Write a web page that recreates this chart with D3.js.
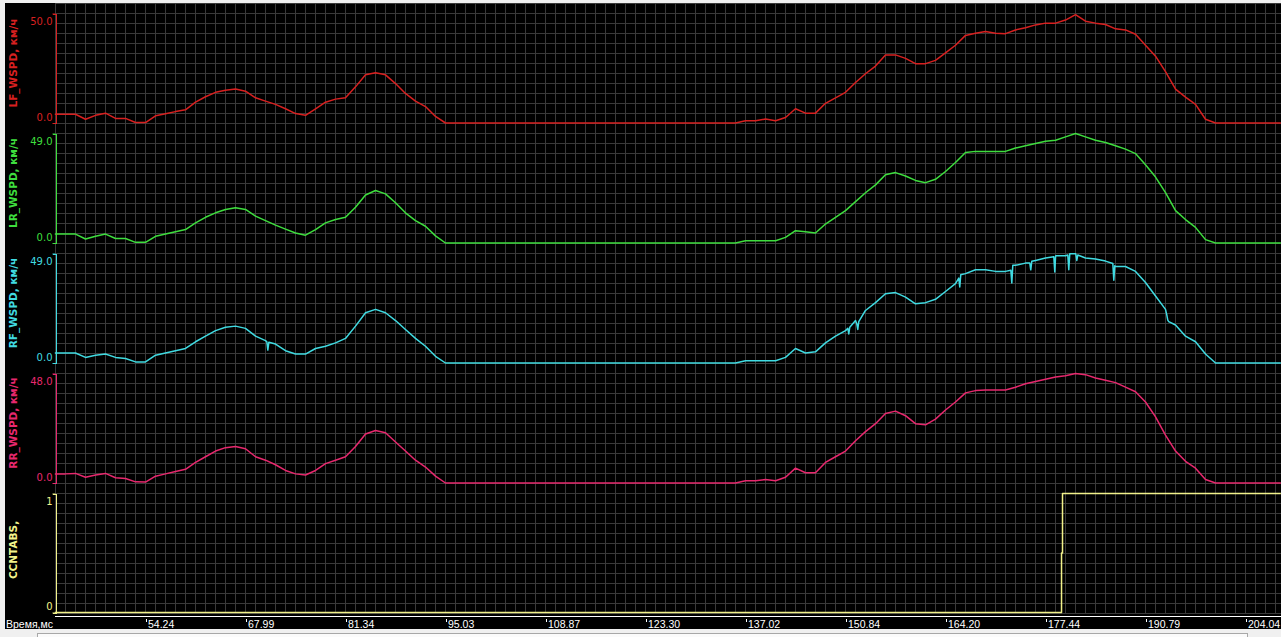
<!DOCTYPE html>
<html><head><meta charset="utf-8">
<script src="https://cdn.jsdelivr.net/npm/d3@7"></script>
<style>body{margin:0;background:#f0f0f0;overflow:hidden}svg{display:block}</style>
</head><body><svg id="c" width="1281" height="637"></svg>
<script>
// ---------- data ----------
const tickTimes = [54.24, 67.99, 81.34, 95.03, 108.87, 123.30, 137.02, 150.84, 164.20, 177.44, 190.79, 204.04];
const xTitle = "Время,мс";
const seriesNames = ["LF_WSPD, км/ч", "LR_WSPD, км/ч", "RF_WSPD, км/ч", "RR_WSPD, км/ч", "CCNTABS,"];
const axisMax = [50, 49, 49, 48, 1];
const axisFormat = [".1f", ".1f", ".1f", ".1f", "d"];

const timeMs = [41.77, 43.24, 44.62, 45.99, 47.37, 48.74, 50.12, 51.49, 52.87, 54.24,
 55.62, 56.99, 58.37, 59.74, 61.12, 62.49, 63.87, 65.24, 66.62, 67.99,
 69.33, 70.66, 72.00, 73.33, 74.67, 76.00, 77.34, 78.67, 80.01, 81.34,
 82.71, 84.08, 85.45, 86.82, 88.19, 89.55, 90.92, 92.29, 93.66, 95.03,
 96.41, 97.80, 99.18, 100.57, 101.95, 103.33, 104.72, 106.10, 107.49, 108.87,
 110.31, 111.76, 113.20, 114.64, 116.09, 117.53, 118.97, 120.41, 121.86, 123.30,
 124.67, 126.04, 127.42, 128.79, 130.16, 131.53, 132.90, 134.28, 135.65, 137.02,
 138.40, 139.78, 141.17, 142.55, 143.93, 145.31, 146.69, 148.07, 149.46, 150.84,
 152.18, 153.51, 154.85, 156.18, 157.52, 158.86, 160.19, 161.53, 162.86, 164.20,
 165.52, 166.85, 168.17, 169.50, 170.82, 172.14, 173.47, 174.79, 176.12, 177.44,
 178.78, 180.11, 181.45, 182.78, 184.12, 185.45, 186.79, 188.12, 189.46, 190.79,
 192.12, 193.44, 194.77, 196.09, 197.42, 198.74, 200.07, 201.39, 202.72, 204.04,
 205.37, 206.69, 208.02, 208.72];

const lfWspd = [4.0, 4.0, 4.0, 1.7, 3.5, 4.5, 2.1, 2.1, 0.2, 0.2,
 3.3, 4.2, 5.2, 6.0, 9.5, 12.0, 14.0, 15.0, 15.5, 14.5,
 11.5, 10.0, 8.5, 6.5, 4.3, 3.5, 6.5, 9.5, 10.9, 11.5,
 16.5, 22.0, 22.9, 22.0, 18.0, 13.5, 10.0, 7.5, 3.0, 0,
 0, 0, 0, 0, 0, 0, 0, 0, 0, 0,
 0, 0, 0, 0, 0, 0, 0, 0, 0, 0,
 0, 0, 0, 0, 0, 0, 0, 0, 0, 1.0,
 1.0, 1.8, 1.0, 2.5, 6.5, 4.5, 4.5, 9.0, 11.5, 14.0,
 18.5, 22.5, 26.0, 31.0, 31.1, 29.5, 27.1, 27.1, 28.6, 32.0,
 35.5, 40.0, 41.0, 41.8, 41.0, 40.8, 42.5, 43.5, 44.8, 45.6,
 45.6, 47.0, 49.5, 46.5, 45.6, 45.0, 43.0, 42.5, 40.5, 35.5,
 30.5, 23.5, 15.5, 11.8, 8.5, 1.7, 0, 0, 0, 0,
 0, 0, 0, 0];

const lrWspd = [4.0, 4.0, 4.0, 1.8, 3.0, 4.0, 2.0, 2.0, 0.3, 0.3,
 3.0, 4.0, 5.0, 6.0, 9.0, 11.5, 13.5, 15.0, 15.8, 15.0,
 12.0, 10.0, 8.0, 6.2, 4.5, 3.5, 6.0, 9.0, 10.5, 11.5,
 16.0, 21.5, 23.5, 22.0, 18.0, 13.5, 10.0, 7.5, 3.2, 0,
 0, 0, 0, 0, 0, 0, 0, 0, 0, 0,
 0, 0, 0, 0, 0, 0, 0, 0, 0, 0,
 0, 0, 0, 0, 0, 0, 0, 0, 0, 1.0,
 1.0, 1.0, 1.0, 2.5, 5.5, 5.0, 4.5, 8.5, 11.5, 14.5,
 18.5, 22.5, 26.0, 30.5, 31.5, 30.0, 28.0, 27.0, 28.5, 32.0,
 36.0, 40.5, 41.0, 41.0, 41.0, 41.0, 42.5, 43.5, 44.5, 45.5,
 46.0, 47.5, 49.0, 47.5, 46.0, 45.0, 43.5, 42.0, 40.0, 35.0,
 29.5, 22.5, 14.5, 10.5, 7.0, 1.5, 0, 0, 0, 0,
 0, 0, 0, 0];

const rfWspd = [4.5, 4.5, 4.5, 2.5, 3.5, 4.0, 2.5, 2.0, 0.5, 0.5,
 3.5, 4.5, 5.5, 6.5, 9.5, 12.0, 14.5, 16.0, 16.5, 15.5,
 12.0, 10.0, 8.5, 5.5, 4.0, 4.0, 6.5, 7.5, 9.0, 11.0,
 16.5, 22.5, 24.0, 22.5, 19.0, 15.0, 11.0, 7.5, 3.0, 0,
 0, 0, 0, 0, 0, 0, 0, 0, 0, 0,
 0, 0, 0, 0, 0, 0, 0, 0, 0, 0,
 0, 0, 0, 0, 0, 0, 0, 0, 0, 1.0,
 1.0, 1.0, 1.0, 2.5, 6.5, 4.5, 5.0, 9.0, 12.0, 14.5,
 19.0, 23.5, 27.0, 31.0, 31.5, 29.5, 26.5, 27.0, 28.5, 32.0,
 35.5, 40.0, 41.7, 41.7, 41.0, 41.0, 43.7, 44.7, 45.9, 47.0,
 47.5, 48.0, 48.9, 47.0, 46.5, 45.6, 43.2, 43.2, 41.0, 36.0,
 30.0, 24.0, 17.0, 12.0, 9.5, 4.0, 0, 0, 0, 0,
 0, 0, 0, 0];

// short downward dropouts in the RF trace: [time, value]
const rfSpikes = [
 [70.84, 9.5], [70.97, 5.8], [71.11, 9.3],
 [151.15, 15.5], [151.28, 13.0], [151.41, 16.0],
 [152.35, 17.5], [152.48, 15.0], [152.61, 18.5],
 [165.96, 38.0], [166.09, 34.0], [166.22, 39.5],
 [172.85, 41.5], [172.98, 35.8], [173.11, 43.7],
 [175.36, 44.7], [175.49, 41.7], [175.62, 45.5],
 [178.55, 47.5], [178.68, 40.7], [178.81, 48.0],
 [180.42, 48.3], [180.55, 41.7], [180.68, 48.9],
 [181.49, 48.7], [181.62, 45.9], [181.75, 48.3],
 [186.43, 44.5], [186.56, 37.0], [186.69, 43.5],
 [193.61, 21.5], [193.74, 19.2], [193.87, 18.5]
];

const rrWspd = [4.0, 4.0, 4.2, 2.5, 3.5, 4.2, 2.3, 2.0, 0.5, 0.4,
 3.0, 4.0, 5.0, 6.0, 9.0, 11.5, 14.0, 15.5, 16.0, 15.0,
 11.5, 10.0, 8.0, 5.5, 4.0, 3.5, 5.5, 8.5, 10.0, 11.5,
 16.0, 21.5, 23.0, 22.0, 18.0, 14.0, 10.0, 7.0, 3.0, 0,
 0, 0, 0, 0, 0, 0, 0, 0, 0, 0,
 0, 0, 0, 0, 0, 0, 0, 0, 0, 0,
 0, 0, 0, 0, 0, 0, 0, 0, 0, 1.0,
 1.0, 1.5, 1.0, 2.5, 6.5, 4.5, 4.5, 9.0, 11.5, 14.0,
 18.5, 22.5, 26.0, 30.5, 31.5, 29.5, 26.0, 25.5, 28.0, 32.0,
 35.5, 39.5, 40.5, 40.8, 40.8, 40.8, 42.0, 43.5, 44.5, 45.5,
 46.5, 47.0, 48.0, 47.5, 46.0, 45.0, 44.0, 42.0, 40.0, 35.5,
 29.0, 21.0, 14.0, 9.5, 6.5, 1.5, 0, 0, 0, 0,
 0, 0, 0, 0];

const ccTime = [41.77, 179.58, 179.71, 208.72];
const ccValue = [0, 0.5, 1, 1];

// ---------- drawing ----------
const W = 1281, H = 637;
const colors = ["#d82020", "#3ede3e", "#40dbe2", "#e8286e", "#f2f28a"];
const FONT = "'DejaVu Sans', Verdana, sans-serif";
const TICKFONT = "'Liberation Sans', Arial, sans-serif";
const plotL = 55, plotR = W, gridTop = 3, gridBot = 613;

const svg = d3.select("#c");
svg.append("rect").attr("width", W).attr("height", H).attr("fill", "#f0f0f0");
svg.append("rect").attr("x", 5).attr("y", 3).attr("width", W - 5).attr("height", 626).attr("fill", "#000");
svg.append("rect").attr("x", 37.5).attr("y", 633.5).attr("width", 1210).attr("height", 6)
  .attr("fill", "#fbfbfb").attr("stroke", "#a8a8a8");

const x = d3.scaleLinear().domain(tickTimes).range(tickTimes.map((d, i) => 145.5 + 100 * i));

// grid
const grid = svg.append("g").attr("stroke", "#3a3a3a").attr("shape-rendering", "crispEdges");
grid.selectAll("line.v").data(d3.range(-9, 114)).join("line")
  .attr("x1", k => 145.5 + 10 * k).attr("x2", k => 145.5 + 10 * k)
  .attr("y1", gridTop).attr("y2", gridBot);
grid.selectAll("line.h").data(d3.range(0, 62)).join("line")
  .attr("x1", plotL).attr("x2", plotR)
  .attr("y1", k => 3.5 + 10 * k).attr("y2", k => 3.5 + 10 * k);

// series assembly
const pair = (t, v) => t.map((d, i) => [d, v[i]]);
const rfPoints = pair(timeMs, rfWspd).concat(rfSpikes).sort((a, b) => a[0] - b[0]);
const seriesData = [pair(timeMs, lfWspd), pair(timeMs, lrWspd), rfPoints, pair(timeMs, rrWspd), pair(ccTime, ccValue)];
const traces = svg.append("g");

seriesData.forEach((data, i) => {
  const isCC = i === 4;
  const top = 13.5 + 120 * i;
  const zero = isCC ? 612.5 : 123 + 120 * i;
  const y = d3.scaleLinear().domain([0, axisMax[i]]).range([zero, top]);
  const col = colors[i];

  // axis bracket
  const ax = svg.append("g").attr("transform", `translate(${plotL + 0.5},0)`)
    .call(d3.axisLeft(y).tickValues([0, axisMax[i]]).tickSize(3).tickSizeOuter(3).tickPadding(0)
      .tickFormat(d3.format(axisFormat[i])));
  ax.select(".domain").attr("stroke", col).attr("shape-rendering", "crispEdges");
  ax.selectAll(".tick line").attr("stroke", col);
  ax.selectAll(".tick text").attr("fill", col).attr("font-family", FONT).attr("font-size", 10)
    .attr("dy", d => d === 0 ? "-0.26em" : "1.08em");

  // rotated title
  svg.append("text").attr("transform", `translate(13,${63 + 120 * i + (isCC ? 7 : 0)}) rotate(-90)`)
    .attr("text-anchor", "middle").attr("dominant-baseline", "central")
    .attr("font-family", FONT).attr("font-weight", "bold").attr("font-size", 10.5)
    .attr("fill", col).text(seriesNames[i]);

  // trace
  const line = d3.line().x(d => x(d[0])).y(d => y(d[1]))
    .curve(isCC ? d3.curveStepAfter : d3.curveLinear);
  traces.append("path").datum(data).attr("d", line).attr("fill", "none")
    .attr("stroke", col).attr("stroke-width", 1.5).attr("stroke-linejoin", "round");
});
traces.raise();

// x axis
svg.append("line").attr("x1", plotL).attr("x2", plotR).attr("y1", 616.5).attr("y2", 616.5)
  .attr("stroke", "#fff").attr("shape-rendering", "crispEdges");
const xa = svg.append("g").attr("transform", "translate(0,617)")
  .call(d3.axisBottom(x).tickValues(tickTimes).tickSize(5).tickFormat(d3.format(".2f")));
xa.select(".domain").remove();
xa.selectAll(".tick line").attr("stroke", "#fff").attr("y1", 2).attr("shape-rendering", "crispEdges");
xa.selectAll(".tick text").attr("fill", "#fff").attr("font-family", TICKFONT).attr("font-size", 10.5)
  .attr("text-anchor", "start").attr("x", 2).attr("y", 10.5).attr("dy", 0);
svg.append("text").attr("x", 6).attr("y", 627.5).attr("fill", "#fff")
  .attr("font-family", TICKFONT).attr("font-size", 10.5).text(xTitle);
</script>
</body></html>
